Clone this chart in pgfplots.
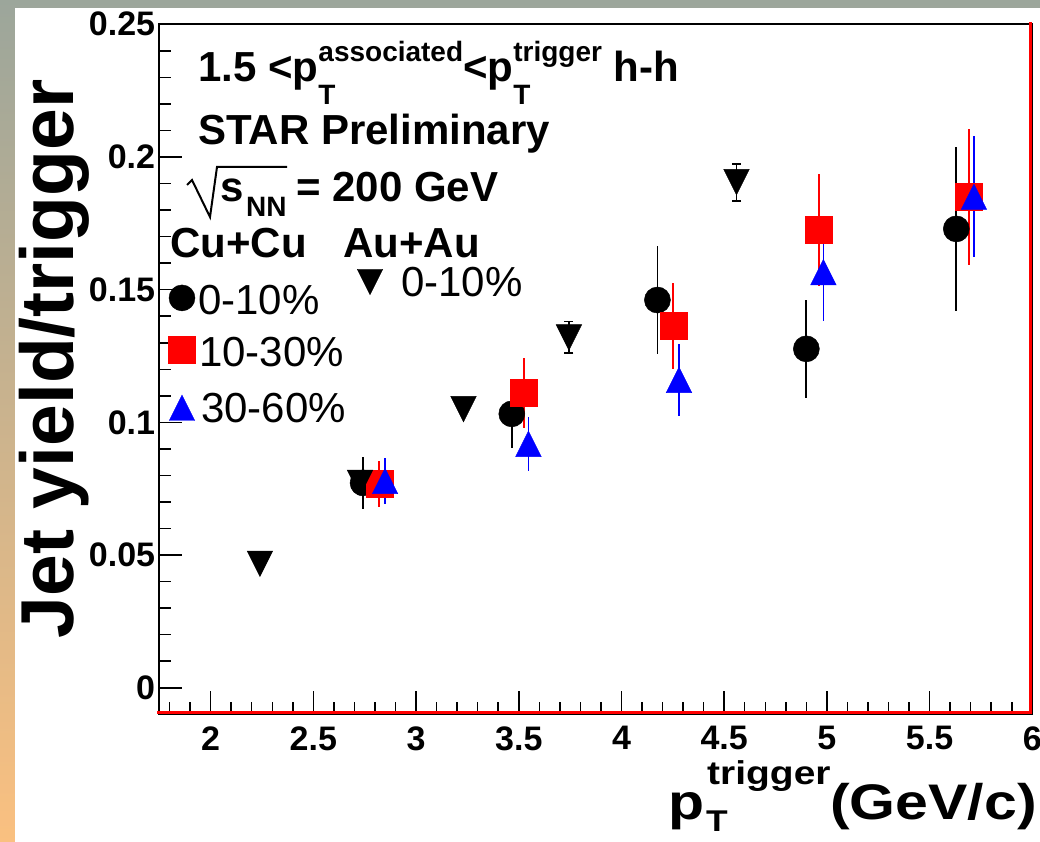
\documentclass[border=0pt]{standalone}
\usepackage{fontspec}
\setmainfont{Liberation Sans}
\usepackage{pgfplots}
\pgfplotsset{compat=1.18}
\definecolor{bgtop}{RGB}{156,166,155}
\definecolor{bgmid}{RGB}{212,196,170}
\definecolor{bgbot}{RGB}{250,192,128}
\pgfdeclareplotmark{rtriup}{%
  \pgfpathmoveto{\pgfqpoint{-\pgfplotmarksize}{-\pgfplotmarksize}}%
  \pgfpathlineto{\pgfqpoint{\pgfplotmarksize}{-\pgfplotmarksize}}%
  \pgfpathlineto{\pgfqpoint{0pt}{\pgfplotmarksize}}%
  \pgfpathclose\pgfusepathqfillstroke}
\pgfdeclareplotmark{rtridown}{%
  \pgfpathmoveto{\pgfqpoint{-\pgfplotmarksize}{\pgfplotmarksize}}%
  \pgfpathlineto{\pgfqpoint{\pgfplotmarksize}{\pgfplotmarksize}}%
  \pgfpathlineto{\pgfqpoint{0pt}{-\pgfplotmarksize}}%
  \pgfpathclose\pgfusepathqfillstroke}
\newcommand{\supsub}[2]{\rlap{\raisebox{-23pt}{\fontsize{28}{28}\selectfont #2}}\raisebox{20pt}{\fontsize{28}{28}\selectfont #1}}

\pgfplotstableread{
x      y       e
2.742  0.0772  0.0097
3.466  0.1032  0.0130
4.175  0.1461  0.0205
4.900  0.1277  0.0185
5.630  0.1729  0.0310
}\cuA
\pgfplotstableread{
x      y       e
2.821  0.0768  0.0088
3.526  0.1110  0.0133
4.252  0.1363  0.0162
4.962  0.1725  0.0210
5.690  0.1850  0.0257
}\cuB
\pgfplotstableread{
x      y       e
2.849  0.0779  0.0088
3.547  0.0919  0.0102
4.280  0.1160  0.0135
4.983  0.1566  0.0184
5.716  0.1850  0.0228
}\cuC
\pgfplotstableread{
x      y       e
2.240  0.0467  0.0000
2.727  0.0772  0.0000
3.231  0.1050  0.0000
3.744  0.1320  0.0060
4.560  0.1905  0.0070
}\auA

\begin{document}
\begin{tikzpicture}[x=1pt,y=1pt]
\useasboundingbox (0,0) rectangle (1040,842);
\clip (0,0) rectangle (1040,842);
\shade[top color=bgtop, middle color=bgmid, bottom color=bgbot] (0,0) rectangle (1040,842);
\fill[white] (15,0) rectangle (1040,834);
\begin{axis}[
  at={(159.3pt,127.7pt)}, anchor=south west,
  scale only axis, width=873pt, height=690pt,
  xmin=1.75, xmax=6, ymin=-0.01, ymax=0.25,
  xtick={2,2.5,3,3.5,4,4.5,5,5.5,6},
  xticklabels={2,2.5,3,3.5,4,4.5,5,5.5,6},
  minor xtick={1.8,1.9,2.1,2.2,2.3,2.4,2.6,2.7,2.8,2.9,3.1,3.2,3.3,3.4,3.6,3.7,3.8,3.9,4.1,4.2,4.3,4.4,4.6,4.7,4.8,4.9,5.1,5.2,5.3,5.4,5.6,5.7,5.8,5.9},
  ytick={0,0.05,0.1,0.15,0.2,0.25},
  yticklabels={0,0.05,0.1,0.15,0.2,0.25},
  minor ytick={0.01,0.02,0.03,0.04,0.06,0.07,0.08,0.09,0.11,0.12,0.13,0.14,0.16,0.17,0.18,0.19,0.21,0.22,0.23,0.24},
  tick align=inside, xtick pos=bottom, ytick pos=left,
  major tick length=23pt, minor tick length=12pt,
  every tick/.style={black, line width=1.5pt},
  axis line style={black, line width=2pt},
  tick label style={font=\fontsize{34}{34}\selectfont\bfseries},
  xticklabel style={inner sep=0pt, yshift=-12pt},
  yticklabel style={inner sep=0pt, xshift=-4pt},
  clip=false,
]
% Cu+Cu 0-10%
\addplot[only marks, black, mark=*, mark size=13pt, mark options={fill=black, line width=0.5pt},
  error bars/.cd, y dir=both, y explicit, error mark=none, error bar style={line width=1.8pt, black}]
  table[x=x, y=y, y error=e] {\cuA};
% Cu+Cu 10-30%
\addplot[only marks, red, mark=square*, mark size=13.5pt, mark options={fill=red, line width=0.5pt},
  error bars/.cd, y dir=both, y explicit, error mark=none, error bar style={line width=1.8pt, red}]
  table[x=x, y=y, y error=e] {\cuB};
% Cu+Cu 30-60%
\addplot[only marks, blue, mark=rtriup, mark size=12.7pt, mark options={fill=blue, line width=0.5pt},
  error bars/.cd, y dir=both, y explicit, error mark=none, error bar style={line width=1.8pt, blue}]
  table[x=x, y=y, y error=e] {\cuC};
% Au+Au 0-10%
\addplot[only marks, black, mark=rtridown, mark size=12.7pt, mark options={fill=black, line width=0.5pt},
  error bars/.cd, y dir=both, y explicit, error bar style={line width=1.8pt, black},
  error mark options={rotate=90, mark size=4.5pt, line width=1.8pt, black}]
  table[x=x, y=y, y error=e] {\auA};
% legend symbols
\addplot[forget plot, only marks, black, mark=*, mark size=13pt, mark options={fill=black}] coordinates {(1.8605,0.1469)};
\addplot[forget plot, only marks, red, mark=square*, mark size=13.5pt, mark options={fill=red}] coordinates {(1.8605,0.1273)};
\addplot[forget plot, only marks, blue, mark=rtriup, mark size=12.7pt, mark options={fill=blue}] coordinates {(1.8605,0.1055)};
\addplot[forget plot, only marks, black, mark=rtridown, mark size=12.7pt, mark options={fill=black}] coordinates {(2.776,0.1529)};
% ROOT frame red lines
\draw[red, line width=2.5pt, shift={(-2pt,2pt)}] (rel axis cs:0,0) -- (rel axis cs:1,0) -- (rel axis cs:1,1);
\end{axis}
% texts
\begin{scope}[every node/.style={anchor=base west, inner sep=0pt}]
\node[font=\fontsize{42}{42}\selectfont\bfseries] at (198,760) {1.5 <p\supsub{associated}{T}<p\supsub{trigger}{T} h-h};
\node[font=\fontsize{42}{42}\selectfont\bfseries] at (198,697) {STAR Preliminary};
\node[font=\fontsize{42}{42}\selectfont\bfseries] at (220,640) {s};
\node[font=\fontsize{28}{28}\selectfont\bfseries] at (246,625) {NN};
\node[font=\fontsize{42}{42}\selectfont\bfseries] at (296,640) {= 200 GeV};
\node[font=\fontsize{42}{42}\selectfont\bfseries] at (170,584) {Cu+Cu};
\node[font=\fontsize{42}{42}\selectfont\bfseries] at (343,584) {Au+Au};
\node[font=\fontsize{42}{42}\selectfont] at (198,527) {0-10\%};
\node[font=\fontsize{42}{42}\selectfont] at (199,475) {10-30\%};
\node[font=\fontsize{42}{42}\selectfont] at (201,419) {30-60\%};
\node[font=\fontsize{42}{42}\selectfont] at (401,545) {0-10\%};
\node[font=\fontsize{50}{50}\selectfont\bfseries, xscale=1.18] at (668,22) {p};
\node[font=\fontsize{33}{33}\selectfont\bfseries, xscale=1.18] at (707,57) {trigger};
\node[font=\fontsize{30}{30}\selectfont\bfseries, xscale=1.18] at (706,10) {T};
\node[font=\fontsize{50}{50}\selectfont\bfseries, xscale=1.18] at (830,22) {(GeV/c)};
\end{scope}
\draw[black, line width=2pt, line join=miter] (187,657) -- (192,662) -- (210,625) -- (217,675) -- (287,675);
\node[rotate=90, anchor=base, inner sep=0pt, font=\fontsize{75}{75}\selectfont\bfseries] at (73,483) {Jet yield/trigger};
\end{tikzpicture}
\end{document}
